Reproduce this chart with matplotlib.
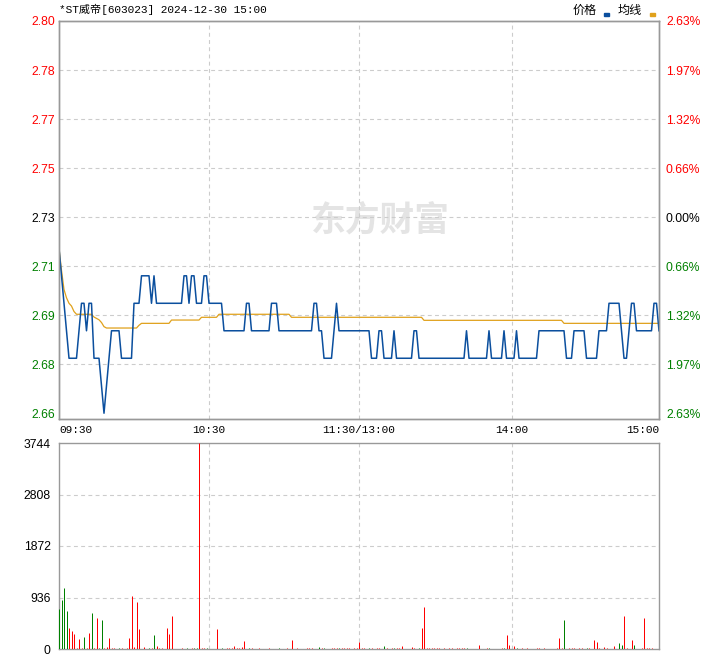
import numpy as np
import matplotlib
matplotlib.use('Agg')
import matplotlib.pyplot as plt
from matplotlib.patches import Rectangle

plt.rcParams['font.family'] = ['Liberation Sans', 'Noto Sans CJK SC', 'DejaVu Sans']

title = '*ST威帝[603023] 2024-12-30 15:00'

# minute prices, 09:30 .. 15:00 (241 points)
price = [
    2.72, 2.71, 2.70, 2.69, 2.68, 2.68, 2.68, 2.68, 2.69, 2.70, 2.70, 2.69, 2.70, 2.70, 2.68, 2.68, 2.68, 2.67, 2.66, 2.67,
    2.68, 2.69, 2.69, 2.69, 2.69, 2.68, 2.68, 2.68, 2.68, 2.68, 2.70, 2.70, 2.70, 2.71, 2.71, 2.71, 2.71, 2.70, 2.71, 2.70,
    2.70, 2.70, 2.70, 2.70, 2.70, 2.70, 2.70, 2.70, 2.70, 2.70, 2.71, 2.71, 2.70, 2.71, 2.71, 2.70, 2.70, 2.70, 2.71, 2.71,
    2.70, 2.70, 2.70, 2.70, 2.70, 2.70, 2.69, 2.69, 2.69, 2.69, 2.69, 2.69, 2.69, 2.69, 2.69, 2.70, 2.70, 2.69, 2.69, 2.69,
    2.69, 2.69, 2.69, 2.69, 2.69, 2.70, 2.70, 2.70, 2.69, 2.69, 2.69, 2.69, 2.69, 2.69, 2.69, 2.69, 2.69, 2.69, 2.69, 2.69,
    2.69, 2.69, 2.70, 2.70, 2.69, 2.69, 2.68, 2.68, 2.68, 2.68, 2.69, 2.70, 2.69, 2.69, 2.69, 2.69, 2.69, 2.69, 2.69, 2.69,
    2.69, 2.69, 2.69, 2.69, 2.69, 2.68, 2.68, 2.68, 2.69, 2.69, 2.68, 2.68, 2.68, 2.68, 2.69, 2.68, 2.68, 2.68, 2.68, 2.68,
    2.68, 2.68, 2.69, 2.69, 2.68, 2.68, 2.68, 2.68, 2.68, 2.68, 2.68, 2.68, 2.68, 2.68, 2.68, 2.68, 2.68, 2.68, 2.68, 2.68,
    2.68, 2.68, 2.68, 2.69, 2.68, 2.68, 2.68, 2.68, 2.68, 2.68, 2.68, 2.68, 2.69, 2.68, 2.68, 2.68, 2.68, 2.68, 2.69, 2.68,
    2.68, 2.68, 2.68, 2.69, 2.68, 2.68, 2.68, 2.68, 2.68, 2.68, 2.68, 2.68, 2.69, 2.69, 2.69, 2.69, 2.69, 2.69, 2.69, 2.69,
    2.69, 2.69, 2.69, 2.68, 2.68, 2.68, 2.69, 2.69, 2.69, 2.69, 2.69, 2.68, 2.68, 2.68, 2.68, 2.68, 2.69, 2.69, 2.69, 2.69,
    2.70, 2.70, 2.70, 2.70, 2.70, 2.69, 2.68, 2.68, 2.69, 2.70, 2.70, 2.69, 2.69, 2.69, 2.69, 2.69, 2.69, 2.69, 2.70, 2.70,
    2.69,
]

# average price line
avg_price = [
    2.720, 2.712, 2.705, 2.702, 2.700, 2.699, 2.697, 2.696, 2.696, 2.696, 2.696, 2.696, 2.696, 2.696, 2.695, 2.6945, 2.694, 2.693, 2.6915, 2.691,
    2.691, 2.691, 2.691, 2.691, 2.691, 2.691, 2.691, 2.691, 2.691, 2.691, 2.691, 2.691, 2.692, 2.6927, 2.6927, 2.6927, 2.6927, 2.6927, 2.6927, 2.6927,
    2.6927, 2.6927, 2.6927, 2.6927, 2.6927, 2.6939, 2.6939, 2.6939, 2.6939, 2.6939, 2.6939, 2.6939, 2.6939, 2.6939, 2.6939, 2.6939, 2.6939, 2.6949, 2.6949, 2.6949,
    2.6949, 2.6949, 2.6949, 2.6949, 2.696, 2.696, 2.696, 2.696, 2.696, 2.696, 2.696, 2.696, 2.696, 2.696, 2.696, 2.696, 2.696, 2.696, 2.696, 2.696,
    2.696, 2.696, 2.696, 2.696, 2.696, 2.696, 2.696, 2.696, 2.696, 2.696, 2.696, 2.696, 2.696, 2.6949, 2.6949, 2.6949, 2.6949, 2.6949, 2.6949, 2.6949,
    2.6949, 2.6949, 2.6949, 2.6949, 2.6949, 2.6949, 2.6949, 2.6949, 2.6949, 2.6949, 2.6949, 2.6949, 2.6949, 2.6949, 2.6949, 2.6949, 2.6949, 2.6949, 2.6949, 2.6949,
    2.6949, 2.6949, 2.6949, 2.6949, 2.6949, 2.6949, 2.6949, 2.6949, 2.6949, 2.6949, 2.6949, 2.6949, 2.6949, 2.6949, 2.6949, 2.6949, 2.6949, 2.6949, 2.6949, 2.6949,
    2.6949, 2.6949, 2.6949, 2.6949, 2.6949, 2.6949, 2.6938, 2.6938, 2.6938, 2.6938, 2.6938, 2.6938, 2.6938, 2.6938, 2.6938, 2.6938, 2.6938, 2.6938, 2.6938, 2.6938,
    2.6938, 2.6938, 2.6938, 2.6938, 2.6938, 2.6938, 2.6938, 2.6938, 2.6938, 2.6938, 2.6938, 2.6938, 2.6938, 2.6938, 2.6938, 2.6938, 2.6938, 2.6938, 2.6938, 2.6938,
    2.6938, 2.6938, 2.6938, 2.6938, 2.6938, 2.6938, 2.6938, 2.6938, 2.6938, 2.6938, 2.6938, 2.6938, 2.6938, 2.6938, 2.6938, 2.6938, 2.6938, 2.6938, 2.6938, 2.6938,
    2.6938, 2.6938, 2.6927, 2.6927, 2.6927, 2.6927, 2.6927, 2.6927, 2.6927, 2.6927, 2.6927, 2.6927, 2.6927, 2.6927, 2.6927, 2.6927, 2.6927, 2.6927, 2.6927, 2.6927,
    2.6927, 2.6927, 2.6927, 2.6927, 2.6927, 2.6927, 2.6927, 2.6927, 2.6927, 2.6927, 2.6927, 2.6927, 2.6927, 2.6927, 2.6927, 2.6927, 2.6927, 2.6927, 2.6927, 2.6927,
    2.6927,
]

price_labels = ['2.80', '2.78', '2.77', '2.75', '2.73', '2.71', '2.69', '2.68', '2.66']
pct_labels = ['2.63%', '1.97%', '1.32%', '0.66%', '0.00%', '0.66%', '1.32%', '1.97%', '2.63%']
price_top = 2.8027
price_grid_bottom = 2.66
price_bottom = 2.6579

time_labels = ['09:30', '10:30', '11:30/13:00', '14:00', '15:00']
time_minutes = [0, 60, 120, 181, 240]

# volume bars (minute index, volume, U=up/red D=down/green)
vol_minutes = [
    0, 1, 2, 3, 4, 5, 6, 7, 8, 9,
    10, 11, 12, 13, 14, 15, 16, 17, 18, 19,
    20, 21, 22, 24, 25, 27, 28, 29, 30, 31,
    32, 34, 36, 37, 38, 39, 40, 41, 43, 44,
    45, 49, 51, 53, 54, 55, 56, 57, 58, 59,
    63, 65, 67, 68, 69, 70, 71, 72, 73, 74,
    76, 77, 80, 84, 88, 91, 93, 95, 99, 100,
    101, 104, 105, 106, 109, 110, 111, 112, 113, 114,
    115, 116, 118, 119, 120, 121, 122, 124, 125, 127,
    128, 130, 131, 133, 134, 135, 136, 137, 141, 142,
    144, 145, 146, 147, 148, 149, 150, 151, 152, 154,
    156, 157, 159, 160, 161, 162, 163, 168, 171, 172,
    177, 178, 179, 180, 182, 183, 185, 187, 191, 192,
    194, 199, 200, 201, 202, 204, 205, 206, 208, 209,
    211, 212, 214, 215, 216, 218, 219, 222, 224, 225,
    226, 227, 229, 230, 233, 234, 235, 236, 237, 240,
]
vol_values = [
    733, 897, 1115, 697, 382, 333, 279, 24, 188, 24,
    224, 24, 297, 660, 24, 570, 24, 533, 24, 42,
    206, 24, 24, 24, 24, 24, 206, 970, 42, 860,
    370, 42, 24, 24, 260, 60, 24, 24, 388, 279,
    606, 24, 24, 24, 24, 24, 3744, 24, 24, 24,
    370, 24, 24, 24, 24, 60, 24, 24, 42, 152,
    24, 24, 24, 24, 24, 24, 170, 24, 24, 24,
    24, 42, 24, 24, 24, 24, 24, 24, 24, 24,
    24, 24, 24, 24, 133, 24, 24, 24, 24, 24,
    24, 60, 24, 24, 24, 24, 24, 60, 42, 24,
    24, 388, 770, 24, 24, 24, 24, 24, 24, 24,
    24, 24, 24, 24, 24, 24, 24, 79, 24, 24,
    24, 24, 260, 79, 60, 24, 24, 24, 24, 24,
    24, 24, 206, 24, 533, 24, 24, 24, 24, 24,
    24, 24, 170, 133, 24, 42, 24, 60, 115, 79,
    606, 24, 170, 79, 24, 570, 24, 24, 24, 679,
]
vol_dir = (
    'DDDDUUUUUU' 'DUUDUUDDUU' 'UUUDUUUUUU' 'UUDUDUUUUU'
    'UUDUDDUUUD' 'UDUUUUUUUU' 'DUUUDUUUUU' 'UDUDUUUDUU'
    'UUUUUUUDUU' 'UDUUDUUUUU' 'DUUUUUUUUU' 'UUUUUUDUUD'
    'UDUUUDUUUU' 'UUUUDUUUUU' 'DUUUUUUUDD' 'UUUDUUUUUD'
)
vol_ticks = [0, 936, 1872, 2808, 3744]

blue = '#0b4f9e'
orange = '#e0a11b'
red = '#ff0000'
green = '#008000'
frame = '#999999'
grid = '#cccccc'
dash = (0, (3.5, 3))

fig = plt.figure(figsize=(7.2, 6.55), dpi=100)
ax = fig.add_axes([59 / 720, 1 - 419 / 655, 600 / 720, 398 / 655])
axv = fig.add_axes([59 / 720, 1 - 649 / 655, 600 / 720, 206 / 655])

x = np.arange(len(price))

# price panel
ax.set_xlim(0, 240)
ax.set_ylim(price_bottom, price_top)
grid_vals = np.linspace(price_top, price_grid_bottom, 9)
for g in grid_vals[1:-1]:
    ax.axhline(g, color=grid, lw=0.8, ls=dash, zorder=1)
for m in time_minutes[1:-1]:
    ax.axvline(m, color=grid, lw=0.8, ls=dash, zorder=1)

ax.text(0.535, 0.50, '东方财富', transform=ax.transAxes, ha='center', va='center',
        fontsize=25, color='#e4e4e4', fontweight='bold', family='Noto Sans CJK SC', zorder=0)

ax.plot(x, avg_price, color=orange, lw=0.9, zorder=3)
ax.plot(x, price, color=blue, lw=1.1, zorder=4)

label_colors = [red] * 4 + ['black'] + [green] * 4
ax.set_yticks(grid_vals)
ax.set_yticklabels(price_labels, fontsize=8.7)
ax.tick_params(axis='y', length=0, pad=3)
for t, c in zip(ax.get_yticklabels(), label_colors):
    t.set_color(c)

ax_r = ax.twinx()
ax_r.set_ylim(price_bottom, price_top)
ax_r.set_yticks(grid_vals)
ax_r.set_yticklabels(pct_labels, fontsize=8.7)
ax_r.tick_params(axis='y', length=0, pad=5)
for t, c in zip(ax_r.get_yticklabels(), label_colors):
    t.set_color(c)

ax.set_xticks(time_minutes)
ax.set_xticklabels(time_labels, family=['Liberation Mono', 'DejaVu Sans Mono'], fontsize=8)
ax.tick_params(axis='x', length=0, pad=4)
xt = ax.get_xticklabels()
xt[0].set_ha('left')
xt[-1].set_ha('right')

for a in (ax, ax_r, axv):
    for s in a.spines.values():
        s.set_color(frame)
        s.set_linewidth(1.0)

# volume panel
axv.set_xlim(0, 240)
axv.set_ylim(0, 3744)
for g in vol_ticks[1:-1]:
    axv.axhline(g, color=grid, lw=0.8, ls=dash, zorder=1)
for m in time_minutes[1:-1]:
    axv.axvline(m, color=grid, lw=0.8, ls=dash, zorder=1)
bar_colors = [red if d == 'U' else green for d in vol_dir]
axv.vlines(vol_minutes, 0, vol_values, colors=bar_colors, linewidth=0.72,
           snap=True, zorder=3)
axv.set_xticks([])
axv.set_yticks(vol_ticks)
axv.set_yticklabels([str(v) for v in vol_ticks], fontsize=8.7)
axv.tick_params(axis='y', length=0, pad=6)

# title and legend
fig.text(59 / 720, 1 - 9 / 655, title, family=['Liberation Mono', 'Noto Sans CJK SC'],
         fontsize=8, va='center', ha='left')
fig.text(585 / 720, 1 - 10 / 655, '价格', family='Noto Sans CJK SC', fontsize=8.7,
         va='center', ha='center')
fig.add_artist(Rectangle((604 / 720, 1 - 15.5 / 655), 5 / 720, 3 / 655,
                         transform=fig.transFigure, color=blue))
fig.text(630 / 720, 1 - 10 / 655, '均线', family='Noto Sans CJK SC', fontsize=8.7,
         va='center', ha='center')
fig.add_artist(Rectangle((650 / 720, 1 - 15.5 / 655), 5 / 720, 3 / 655,
                         transform=fig.transFigure, color=orange))

fig.savefig('out.png', dpi=100)
